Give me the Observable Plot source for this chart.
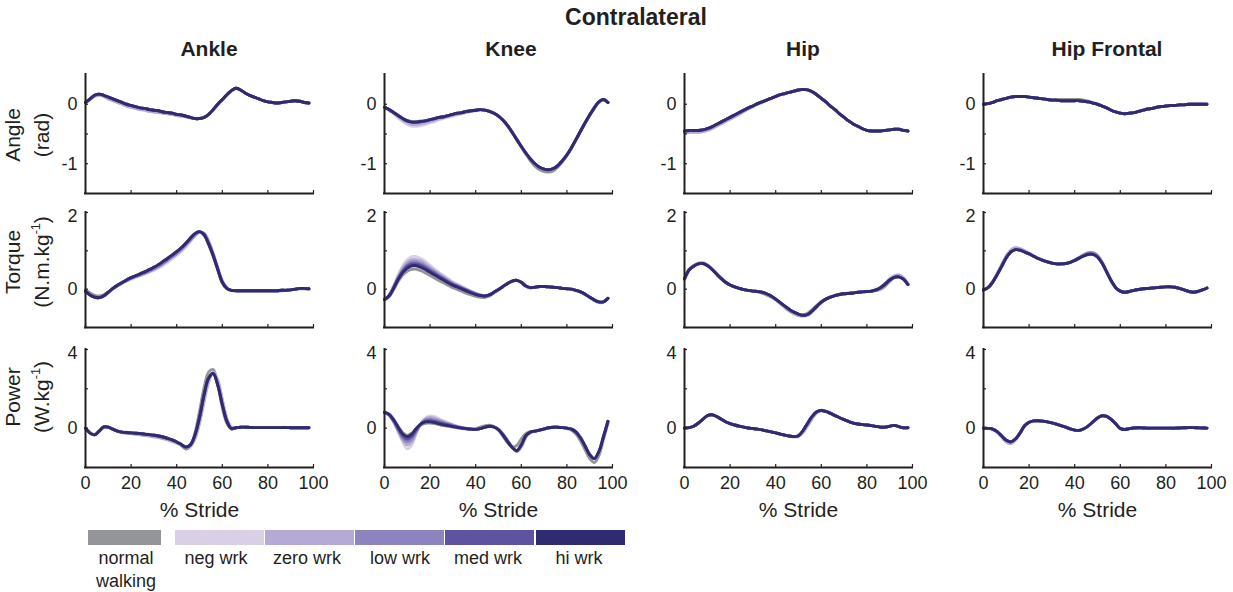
<!DOCTYPE html>
<html>
<head>
<meta charset="utf-8">
<script src="https://cdn.jsdelivr.net/npm/d3@7"></script>
<script src="https://cdn.jsdelivr.net/npm/@observablehq/plot@0.6"></script>
<style>
  body { margin: 0; background: #fff; }
  #fig { position: relative; width: 1233px; height: 592px; overflow: hidden;
         font-family: "Liberation Sans", Arial, Helvetica, sans-serif; color: #231f20; }
  .txt { position: absolute; white-space: nowrap; transform: translate(-50%, -50%); line-height: 1; }
  .ylab { position: absolute; white-space: nowrap; text-align: center; line-height: 29px; font-size: 21px;
          transform: translate(-50%, -50%) rotate(-90deg); }
  .ylab sup { font-size: 0.6em; vertical-align: 0.7em; line-height: 0; }
  .swatch { position: absolute; height: 15px; }
  .panel { position: absolute; }
</style>
</head>
<body>
<div id="fig"></div>
<script>
// ---- sample grid (% of stride) ----
const stride = [0,2,4,6,8,10,12,14,16,18,20,22,24,26,28,30,32,34,36,38,40,42,44,46,48,
  50,52,54,56,58,60,62,64,66,68,70,72,74,76,78,80,82,84,86,88,90,92,94,96,98];

// ---- conditions and their colours ----
const groups = ["normal walking", "neg wrk", "zero wrk", "low wrk", "med wrk", "hi wrk"];
const groupColors = ["#939598", "#d9d0e6", "#b4aad4", "#8c83bf", "#5d53a1", "#302a70"];
const legendLines = [["normal", "walking"], ["neg wrk"], ["zero wrk"], ["low wrk"], ["med wrk"], ["hi wrk"]];

// ---- panel labels ----
const figureTitle = "Contralateral";
const joints = ["Ankle", "Knee", "Hip", "Hip Frontal"];
const measures = ["Angle", "Torque", "Power"];
const measureUnits = ["(rad)", "(N.m.kg<sup>-1</sup>)", "(W.kg<sup>-1</sup>)"];
const strideLabel = "% Stride";

// ---- axes ----
const angleDomain = [-1.5, 0.5], angleTicks = [-1, -0.5, 0], angleTickLabels = [-1, 0];
const torqueDomain = [-1, 2], torqueTicks = [-1, 0, 1, 2], torqueTickLabels = [0, 2];
const powerDomain = [-2, 4], powerTicks = [-2, 0, 2, 4], powerTickLabels = [0, 4];
const strideTicks = [0, 20, 40, 60, 80, 100];

// ================= ANKLE =================
const ankleAngleDark = [
  0.03,0.09,0.15,0.17,0.15,0.12,0.09,0.06,0.03,0.00,
  -0.02,-0.04,-0.06,-0.07,-0.09,-0.10,-0.11,-0.13,-0.14,-0.15,
  -0.17,-0.18,-0.20,-0.22,-0.24,-0.24,-0.22,-0.17,-0.09,0.00,
  0.08,0.16,0.23,0.27,0.24,0.19,0.15,0.12,0.09,0.06,
  0.04,0.03,0.02,0.03,0.04,0.05,0.06,0.05,0.03,0.02];
const ankleAngleLight = [
  0.02,0.08,0.13,0.15,0.13,0.09,0.06,0.03,0.00,-0.03,
  -0.05,-0.07,-0.09,-0.10,-0.12,-0.13,-0.14,-0.15,-0.16,-0.17,
  -0.19,-0.20,-0.21,-0.23,-0.24,-0.24,-0.22,-0.17,-0.10,-0.01,
  0.07,0.15,0.22,0.27,0.24,0.19,0.15,0.12,0.09,0.06,
  0.04,0.03,0.02,0.03,0.04,0.05,0.06,0.05,0.03,0.02];

const ankleTorqueHi = [
  -0.05,-0.15,-0.21,-0.22,-0.17,-0.08,0.02,0.10,0.17,0.24,
  0.30,0.35,0.40,0.45,0.51,0.57,0.64,0.72,0.80,0.89,
  0.98,1.08,1.20,1.33,1.45,1.50,1.42,1.18,0.88,0.52,
  0.18,0.02,-0.03,-0.04,-0.04,-0.04,-0.04,-0.04,-0.04,-0.04,
  -0.04,-0.04,-0.04,-0.03,-0.03,-0.02,0.00,0.02,0.02,0.01];
const ankleTorqueZero = [
  -0.05,-0.15,-0.21,-0.22,-0.18,-0.09,0.01,0.09,0.16,0.22,
  0.28,0.33,0.37,0.42,0.47,0.53,0.59,0.67,0.75,0.84,
  0.93,1.03,1.15,1.28,1.41,1.49,1.45,1.23,0.91,0.54,
  0.20,0.03,-0.03,-0.04,-0.04,-0.04,-0.04,-0.04,-0.04,-0.04,
  -0.04,-0.04,-0.04,-0.03,-0.03,-0.02,0.00,0.02,0.02,0.01];
const ankleTorqueNeg = [
  -0.06,-0.16,-0.22,-0.23,-0.19,-0.10,0.00,0.08,0.15,0.21,
  0.26,0.31,0.35,0.39,0.44,0.49,0.55,0.62,0.70,0.79,
  0.88,0.98,1.10,1.24,1.38,1.48,1.47,1.28,0.96,0.58,
  0.23,0.05,-0.03,-0.04,-0.04,-0.04,-0.04,-0.04,-0.04,-0.04,
  -0.04,-0.04,-0.04,-0.03,-0.03,-0.02,0.00,0.02,0.02,0.01];
const ankleTorqueNormal = [
  -0.02,-0.10,-0.16,-0.18,-0.15,-0.07,0.02,0.10,0.17,0.24,
  0.30,0.35,0.40,0.45,0.51,0.57,0.64,0.72,0.80,0.89,
  0.98,1.08,1.20,1.33,1.45,1.50,1.42,1.16,0.85,0.50,
  0.16,0.01,-0.04,-0.05,-0.05,-0.05,-0.05,-0.05,-0.05,-0.05,
  -0.05,-0.05,-0.05,-0.04,-0.03,-0.02,0.00,0.01,0.01,0.00];

const anklePowerHi = [
  0.00,-0.25,-0.34,-0.15,0.06,0.05,-0.05,-0.15,-0.20,-0.22,
  -0.24,-0.26,-0.28,-0.30,-0.33,-0.36,-0.40,-0.45,-0.52,-0.60,
  -0.70,-0.83,-0.96,-0.85,-0.35,0.55,1.70,2.55,2.78,2.20,
  1.20,0.35,-0.02,0.02,0.05,0.05,0.04,0.03,0.03,0.03,
  0.03,0.03,0.03,0.03,0.03,0.02,0.02,0.02,0.02,0.02];
const anklePowerLight = [
  0.00,-0.25,-0.34,-0.16,0.05,0.04,-0.06,-0.17,-0.23,-0.26,
  -0.28,-0.31,-0.34,-0.37,-0.40,-0.44,-0.48,-0.53,-0.59,-0.67,
  -0.76,-0.86,-0.96,-0.92,-0.55,0.25,1.35,2.35,2.85,2.45,
  1.45,0.50,0.05,0.02,0.05,0.05,0.04,0.03,0.03,0.03,
  0.03,0.03,0.03,0.03,0.03,0.02,0.02,0.02,0.02,0.02];
const anklePowerNormal = [
  0.00,-0.22,-0.32,-0.14,0.06,0.05,-0.05,-0.14,-0.19,-0.21,
  -0.23,-0.25,-0.27,-0.29,-0.32,-0.35,-0.39,-0.44,-0.51,-0.60,
  -0.72,-0.88,-1.06,-0.92,-0.25,0.85,2.05,2.85,2.98,2.20,
  1.05,0.25,-0.03,0.02,0.05,0.05,0.04,0.03,0.03,0.03,
  0.03,0.03,0.03,0.03,0.03,0.02,0.02,0.02,0.02,0.02];

// ================= KNEE =================
const kneeAngleHi = [
  -0.05,-0.09,-0.14,-0.19,-0.24,-0.28,-0.30,-0.30,-0.29,-0.28,
  -0.26,-0.24,-0.22,-0.21,-0.19,-0.17,-0.15,-0.14,-0.12,-0.11,
  -0.10,-0.09,-0.10,-0.12,-0.15,-0.20,-0.27,-0.36,-0.47,-0.59,
  -0.71,-0.82,-0.92,-1.00,-1.06,-1.09,-1.10,-1.08,-1.03,-0.95,
  -0.85,-0.73,-0.59,-0.45,-0.31,-0.18,-0.06,0.04,0.08,0.03];
const kneeAngleZero = [
  -0.05,-0.10,-0.15,-0.21,-0.27,-0.31,-0.34,-0.34,-0.33,-0.31,
  -0.29,-0.27,-0.24,-0.22,-0.20,-0.18,-0.17,-0.15,-0.13,-0.12,
  -0.10,-0.09,-0.10,-0.12,-0.15,-0.20,-0.27,-0.36,-0.47,-0.59,
  -0.71,-0.82,-0.92,-1.00,-1.06,-1.09,-1.10,-1.08,-1.03,-0.95,
  -0.85,-0.73,-0.59,-0.45,-0.31,-0.18,-0.06,0.04,0.08,0.03];
const kneeAngleNeg = [
  -0.05,-0.10,-0.16,-0.23,-0.29,-0.34,-0.37,-0.37,-0.36,-0.34,
  -0.31,-0.29,-0.26,-0.24,-0.22,-0.20,-0.18,-0.16,-0.14,-0.12,
  -0.11,-0.10,-0.10,-0.12,-0.15,-0.20,-0.27,-0.36,-0.47,-0.59,
  -0.71,-0.82,-0.92,-1.00,-1.06,-1.09,-1.10,-1.08,-1.03,-0.95,
  -0.85,-0.73,-0.59,-0.45,-0.31,-0.18,-0.06,0.03,0.07,0.03];
const kneeAngleNormal = [
  -0.05,-0.09,-0.14,-0.19,-0.24,-0.27,-0.29,-0.29,-0.28,-0.27,
  -0.26,-0.24,-0.22,-0.21,-0.19,-0.17,-0.15,-0.14,-0.12,-0.11,
  -0.10,-0.09,-0.10,-0.12,-0.15,-0.20,-0.27,-0.37,-0.48,-0.60,
  -0.72,-0.84,-0.95,-1.04,-1.10,-1.13,-1.14,-1.12,-1.06,-0.97,
  -0.86,-0.74,-0.60,-0.46,-0.32,-0.19,-0.07,0.03,0.08,0.03];

const kneeTorqueHi = [
  -0.27,-0.18,0.02,0.25,0.43,0.55,0.61,0.61,0.57,0.51,
  0.44,0.37,0.30,0.23,0.16,0.10,0.05,0.00,-0.05,-0.10,
  -0.14,-0.17,-0.18,-0.15,-0.08,-0.01,0.07,0.15,0.21,0.23,
  0.18,0.08,0.04,0.05,0.07,0.07,0.06,0.05,0.04,0.02,
  0.01,0.00,-0.03,-0.07,-0.13,-0.21,-0.28,-0.33,-0.33,-0.24];
const kneeTorqueMed = [
  -0.27,-0.17,0.04,0.28,0.47,0.60,0.66,0.66,0.62,0.56,
  0.48,0.41,0.33,0.26,0.19,0.12,0.07,0.02,-0.03,-0.08,
  -0.13,-0.16,-0.18,-0.15,-0.08,-0.01,0.07,0.15,0.21,0.23,
  0.18,0.08,0.04,0.05,0.07,0.07,0.06,0.05,0.04,0.02,
  0.01,0.00,-0.03,-0.07,-0.13,-0.21,-0.28,-0.33,-0.33,-0.24];
const kneeTorqueLow = [
  -0.27,-0.17,0.05,0.30,0.50,0.64,0.71,0.71,0.67,0.60,
  0.52,0.44,0.36,0.29,0.21,0.14,0.09,0.03,-0.02,-0.07,
  -0.12,-0.16,-0.18,-0.15,-0.08,-0.01,0.07,0.15,0.21,0.23,
  0.18,0.08,0.04,0.05,0.07,0.07,0.06,0.05,0.04,0.02,
  0.01,0.00,-0.03,-0.07,-0.13,-0.21,-0.28,-0.33,-0.33,-0.24];
const kneeTorqueZero = [
  -0.27,-0.16,0.07,0.33,0.55,0.70,0.77,0.77,0.73,0.66,
  0.57,0.48,0.40,0.32,0.24,0.17,0.11,0.05,-0.01,-0.06,
  -0.11,-0.15,-0.17,-0.15,-0.08,-0.01,0.07,0.15,0.21,0.23,
  0.18,0.08,0.04,0.05,0.07,0.07,0.06,0.05,0.04,0.02,
  0.01,0.00,-0.03,-0.07,-0.13,-0.21,-0.28,-0.33,-0.33,-0.24];
const kneeTorqueNeg = [
  -0.27,-0.15,0.09,0.37,0.61,0.77,0.85,0.85,0.80,0.72,
  0.62,0.52,0.43,0.35,0.27,0.19,0.13,0.07,0.01,-0.05,
  -0.10,-0.14,-0.17,-0.15,-0.08,-0.01,0.07,0.15,0.21,0.23,
  0.18,0.08,0.04,0.05,0.07,0.07,0.06,0.05,0.04,0.02,
  0.01,0.00,-0.03,-0.07,-0.13,-0.21,-0.28,-0.33,-0.33,-0.24];
const kneeTorqueNormal = [
  -0.28,-0.20,-0.01,0.20,0.37,0.47,0.52,0.52,0.48,0.42,
  0.36,0.29,0.22,0.16,0.10,0.04,-0.01,-0.06,-0.11,-0.15,
  -0.19,-0.21,-0.22,-0.18,-0.10,-0.02,0.07,0.15,0.21,0.23,
  0.17,0.07,0.03,0.05,0.07,0.07,0.06,0.05,0.04,0.02,
  0.01,0.00,-0.03,-0.07,-0.14,-0.22,-0.30,-0.35,-0.34,-0.24];

const kneePowerHi = [
  0.80,0.70,0.42,0.05,-0.30,-0.44,-0.30,0.00,0.22,0.32,
  0.32,0.28,0.22,0.17,0.13,0.08,0.04,0.00,-0.03,-0.05,
  -0.06,-0.02,0.05,0.10,0.06,-0.08,-0.35,-0.68,-0.98,-1.15,
  -0.85,-0.38,-0.20,-0.15,-0.10,-0.04,0.02,0.05,0.05,0.03,
  0.00,-0.05,-0.20,-0.50,-0.92,-1.35,-1.55,-1.20,-0.45,0.35];
const kneePowerMed = [
  0.80,0.69,0.39,-0.02,-0.40,-0.56,-0.42,-0.07,0.22,0.36,
  0.38,0.34,0.28,0.22,0.16,0.10,0.05,0.01,-0.02,-0.05,
  -0.06,-0.02,0.05,0.10,0.06,-0.08,-0.35,-0.68,-0.98,-1.15,
  -0.85,-0.38,-0.20,-0.15,-0.10,-0.04,0.02,0.05,0.05,0.03,
  0.00,-0.05,-0.20,-0.50,-0.92,-1.35,-1.55,-1.20,-0.45,0.35];
const kneePowerLow = [
  0.80,0.68,0.36,-0.08,-0.50,-0.70,-0.55,-0.14,0.22,0.42,
  0.46,0.41,0.34,0.27,0.20,0.13,0.07,0.02,-0.02,-0.05,
  -0.06,-0.02,0.05,0.09,0.06,-0.07,-0.33,-0.66,-0.97,-1.16,
  -0.88,-0.41,-0.21,-0.15,-0.10,-0.04,0.02,0.05,0.05,0.03,
  0.00,-0.05,-0.20,-0.50,-0.92,-1.35,-1.55,-1.20,-0.45,0.35];
const kneePowerZero = [
  0.80,0.67,0.33,-0.14,-0.60,-0.86,-0.70,-0.20,0.23,0.47,
  0.54,0.50,0.41,0.32,0.24,0.16,0.09,0.03,-0.01,-0.04,
  -0.06,-0.02,0.04,0.09,0.06,-0.06,-0.31,-0.64,-0.96,-1.18,
  -0.92,-0.44,-0.22,-0.15,-0.10,-0.04,0.02,0.05,0.05,0.03,
  0.00,-0.05,-0.19,-0.48,-0.90,-1.33,-1.55,-1.22,-0.48,0.33];
const kneePowerNeg = [
  0.80,0.65,0.30,-0.20,-0.70,-1.05,-0.85,-0.25,0.25,0.52,
  0.62,0.58,0.48,0.37,0.27,0.18,0.10,0.04,-0.01,-0.04,
  -0.06,-0.02,0.04,0.08,0.06,-0.05,-0.28,-0.60,-0.95,-1.20,
  -1.00,-0.50,-0.24,-0.16,-0.10,-0.04,0.02,0.05,0.05,0.03,
  0.00,-0.05,-0.18,-0.46,-0.88,-1.32,-1.56,-1.25,-0.50,0.32];
const kneePowerNormal = [
  0.82,0.72,0.46,0.10,-0.22,-0.36,-0.25,-0.02,0.16,0.25,
  0.26,0.23,0.18,0.13,0.09,0.05,0.01,-0.02,-0.04,-0.04,
  -0.02,0.05,0.12,0.15,0.08,-0.10,-0.42,-0.75,-0.95,-0.88,
  -0.55,-0.28,-0.18,-0.14,-0.09,-0.04,0.02,0.05,0.05,0.03,
  -0.02,-0.10,-0.30,-0.65,-1.10,-1.55,-1.75,-1.40,-0.60,0.25];

// ================= HIP (sagittal) =================
const hipAngleDark = [
  -0.45,-0.44,-0.44,-0.44,-0.43,-0.41,-0.38,-0.34,-0.30,-0.26,
  -0.22,-0.18,-0.14,-0.10,-0.06,-0.03,0.01,0.04,0.07,0.10,
  0.13,0.16,0.18,0.20,0.22,0.24,0.25,0.24,0.21,0.16,
  0.10,0.04,-0.03,-0.09,-0.16,-0.22,-0.28,-0.33,-0.37,-0.41,
  -0.44,-0.45,-0.45,-0.45,-0.44,-0.43,-0.42,-0.42,-0.44,-0.45];
const hipAngleLight = [
  -0.47,-0.47,-0.47,-0.47,-0.46,-0.44,-0.41,-0.37,-0.33,-0.29,
  -0.25,-0.21,-0.17,-0.12,-0.08,-0.04,0.00,0.03,0.07,0.10,
  0.13,0.16,0.18,0.20,0.22,0.24,0.25,0.24,0.21,0.16,
  0.10,0.04,-0.03,-0.09,-0.16,-0.22,-0.28,-0.33,-0.37,-0.41,
  -0.44,-0.45,-0.45,-0.45,-0.44,-0.43,-0.42,-0.42,-0.44,-0.45];

const hipTorqueDark = [
  0.27,0.50,0.60,0.66,0.67,0.62,0.52,0.40,0.28,0.18,
  0.11,0.06,0.02,-0.01,-0.03,-0.05,-0.06,-0.08,-0.12,-0.18,
  -0.26,-0.35,-0.44,-0.53,-0.60,-0.65,-0.68,-0.66,-0.57,-0.45,
  -0.34,-0.26,-0.21,-0.17,-0.14,-0.12,-0.11,-0.10,-0.08,-0.07,
  -0.06,-0.05,-0.02,0.04,0.13,0.24,0.31,0.32,0.26,0.12];
const hipTorqueLight = [
  0.27,0.52,0.62,0.68,0.69,0.64,0.54,0.42,0.30,0.19,
  0.11,0.06,0.02,-0.01,-0.03,-0.05,-0.06,-0.08,-0.12,-0.18,
  -0.27,-0.36,-0.46,-0.55,-0.63,-0.68,-0.70,-0.68,-0.59,-0.47,
  -0.35,-0.26,-0.21,-0.17,-0.14,-0.12,-0.11,-0.10,-0.08,-0.07,
  -0.06,-0.05,-0.02,0.05,0.15,0.27,0.35,0.37,0.30,0.14];
const hipTorqueNormal = [
  0.27,0.50,0.60,0.66,0.67,0.62,0.52,0.40,0.28,0.18,
  0.11,0.06,0.02,-0.01,-0.03,-0.05,-0.07,-0.10,-0.15,-0.21,
  -0.28,-0.38,-0.48,-0.57,-0.64,-0.69,-0.68,-0.63,-0.53,-0.42,
  -0.32,-0.25,-0.20,-0.16,-0.13,-0.11,-0.10,-0.09,-0.08,-0.07,
  -0.06,-0.05,-0.04,0.00,0.08,0.20,0.30,0.33,0.27,0.13];

const hipPowerDark = [
  0.00,0.03,0.10,0.25,0.45,0.63,0.68,0.60,0.46,0.33,
  0.23,0.16,0.10,0.05,0.01,-0.02,-0.05,-0.09,-0.14,-0.19,
  -0.24,-0.30,-0.35,-0.40,-0.43,-0.38,-0.12,0.25,0.60,0.83,
  0.90,0.85,0.75,0.64,0.53,0.43,0.34,0.26,0.21,0.18,
  0.16,0.13,0.09,0.05,0.05,0.10,0.14,0.08,0.02,0.02];
const hipPowerLight = [
  0.00,0.03,0.10,0.25,0.45,0.63,0.68,0.60,0.46,0.33,
  0.23,0.16,0.10,0.05,0.01,-0.02,-0.05,-0.09,-0.14,-0.19,
  -0.24,-0.30,-0.35,-0.40,-0.44,-0.42,-0.22,0.12,0.48,0.78,
  0.91,0.87,0.77,0.65,0.54,0.44,0.35,0.27,0.21,0.18,
  0.16,0.13,0.09,0.05,0.05,0.10,0.14,0.08,0.02,0.02];

// ================= HIP (frontal) =================
const frontalAngleDark = [
  0.00,0.01,0.03,0.06,0.08,0.10,0.12,0.13,0.13,0.13,
  0.12,0.11,0.10,0.09,0.08,0.07,0.07,0.06,0.06,0.06,
  0.06,0.06,0.05,0.04,0.02,0.00,-0.03,-0.06,-0.10,-0.13,
  -0.15,-0.16,-0.15,-0.14,-0.12,-0.10,-0.08,-0.07,-0.05,-0.04,
  -0.03,-0.02,-0.02,-0.01,-0.01,0.00,0.00,0.00,0.00,0.00];
const frontalAngleNormal = [
  0.00,0.01,0.03,0.06,0.08,0.10,0.12,0.13,0.13,0.13,
  0.12,0.11,0.10,0.09,0.08,0.08,0.08,0.08,0.08,0.08,
  0.08,0.08,0.07,0.05,0.03,0.00,-0.03,-0.06,-0.10,-0.13,
  -0.15,-0.16,-0.15,-0.14,-0.12,-0.10,-0.08,-0.07,-0.05,-0.04,
  -0.03,-0.02,-0.02,-0.01,-0.01,0.00,0.00,0.00,0.00,0.00];

const frontalTorqueDark = [
  -0.02,0.04,0.18,0.38,0.60,0.82,0.97,1.03,1.02,0.97,
  0.92,0.86,0.80,0.75,0.71,0.68,0.66,0.66,0.67,0.70,
  0.75,0.81,0.87,0.91,0.91,0.84,0.68,0.45,0.22,0.04,
  -0.05,-0.08,-0.06,-0.03,-0.01,0.01,0.02,0.03,0.04,0.05,
  0.06,0.06,0.05,0.02,-0.02,-0.06,-0.08,-0.06,-0.02,0.03];
const frontalTorqueLight = [
  -0.02,0.05,0.20,0.41,0.64,0.87,1.02,1.08,1.06,1.00,
  0.94,0.87,0.81,0.76,0.71,0.68,0.66,0.66,0.67,0.70,
  0.75,0.81,0.87,0.91,0.91,0.84,0.68,0.45,0.22,0.04,
  -0.05,-0.08,-0.06,-0.03,-0.01,0.01,0.02,0.03,0.04,0.05,
  0.06,0.06,0.05,0.02,-0.02,-0.06,-0.08,-0.06,-0.02,0.03];
const frontalTorqueNormal = [
  -0.02,0.04,0.18,0.38,0.60,0.82,0.97,1.03,1.02,0.97,
  0.92,0.86,0.80,0.75,0.71,0.68,0.66,0.66,0.67,0.70,
  0.76,0.83,0.90,0.95,0.95,0.88,0.71,0.47,0.23,0.04,
  -0.05,-0.08,-0.06,-0.03,-0.01,0.01,0.02,0.03,0.04,0.05,
  0.06,0.06,0.05,0.02,-0.02,-0.06,-0.08,-0.06,-0.02,0.03];

const frontalPowerDark = [
  0.00,-0.01,-0.05,-0.18,-0.40,-0.62,-0.70,-0.55,-0.25,0.12,
  0.30,0.37,0.38,0.36,0.32,0.27,0.21,0.13,0.05,-0.04,
  -0.10,-0.11,-0.03,0.12,0.32,0.52,0.63,0.60,0.45,0.22,
  -0.02,-0.07,-0.02,0.01,0.02,0.01,0.00,0.00,0.00,0.00,
  0.00,0.00,0.00,0.01,0.02,0.03,0.03,0.02,0.01,0.00];
const frontalPowerLight = [
  0.00,-0.01,-0.06,-0.21,-0.46,-0.70,-0.78,-0.60,-0.27,0.10,
  0.30,0.37,0.38,0.36,0.32,0.27,0.21,0.13,0.05,-0.04,
  -0.10,-0.11,-0.03,0.12,0.32,0.52,0.64,0.61,0.46,0.22,
  -0.02,-0.07,-0.02,0.01,0.02,0.01,0.00,0.00,0.00,0.00,
  0.00,0.00,0.00,0.01,0.02,0.03,0.03,0.02,0.01,0.00];

// series per panel, in the order of `groups` (normal, neg, zero, low, med, hi)
const ankleAngle   = [ankleAngleDark, ankleAngleLight, ankleAngleLight, ankleAngleDark, ankleAngleDark, ankleAngleDark];
const ankleTorque  = [ankleTorqueNormal, ankleTorqueNeg, ankleTorqueZero, ankleTorqueZero, ankleTorqueHi, ankleTorqueHi];
const anklePower   = [anklePowerNormal, anklePowerLight, anklePowerLight, anklePowerHi, anklePowerHi, anklePowerHi];
const kneeAngle    = [kneeAngleNormal, kneeAngleNeg, kneeAngleZero, kneeAngleHi, kneeAngleHi, kneeAngleHi];
const kneeTorque   = [kneeTorqueNormal, kneeTorqueNeg, kneeTorqueZero, kneeTorqueLow, kneeTorqueMed, kneeTorqueHi];
const kneePower    = [kneePowerNormal, kneePowerNeg, kneePowerZero, kneePowerLow, kneePowerMed, kneePowerHi];
const hipAngle     = [hipAngleDark, hipAngleLight, hipAngleLight, hipAngleDark, hipAngleDark, hipAngleDark];
const hipTorque    = [hipTorqueNormal, hipTorqueLight, hipTorqueLight, hipTorqueDark, hipTorqueDark, hipTorqueDark];
const hipPower     = [hipPowerDark, hipPowerLight, hipPowerLight, hipPowerDark, hipPowerDark, hipPowerDark];
const frontalAngle = [frontalAngleNormal, frontalAngleDark, frontalAngleDark, frontalAngleDark, frontalAngleDark, frontalAngleDark];
const frontalTorque= [frontalTorqueNormal, frontalTorqueLight, frontalTorqueLight, frontalTorqueDark, frontalTorqueDark, frontalTorqueDark];
const frontalPower = [frontalPowerDark, frontalPowerLight, frontalPowerLight, frontalPowerDark, frontalPowerDark, frontalPowerDark];

const grid = [
  [ankleAngle, kneeAngle, hipAngle, frontalAngle],
  [ankleTorque, kneeTorque, hipTorque, frontalTorque],
  [anklePower, kneePower, hipPower, frontalPower]
];
const rowAxes = [
  {domain: angleDomain, ticks: angleTicks, labels: angleTickLabels},
  {domain: torqueDomain, ticks: torqueTicks, labels: torqueTickLabels},
  {domain: powerDomain, ticks: powerTicks, labels: powerTickLabels}
];

// ---- layout ----
const ink = "#231f20";
const font = '"Liberation Sans", Arial, Helvetica, sans-serif';
const fig = document.getElementById("fig");
const colLeft = [85, 384, 684, 983];
const plotW = 228;
const rowTop = [74, 212, 349];
const rowH = [119, 115, 118];
const ML = 45, MR = 10, MT = 6;

function records(list) {
  return list.flatMap((vals, gi) => vals.map((v, i) => ({x: stride[i], y: v, group: groups[gi]})));
}

function addText(html, x, y, style = {}) {
  const d = document.createElement("div");
  d.className = "txt";
  d.innerHTML = html;
  d.style.left = x + "px";
  d.style.top = y + "px";
  Object.assign(d.style, style);
  fig.appendChild(d);
  return d;
}

grid.forEach((row, r) => {
  const ax = rowAxes[r];
  const yd = ax.domain;
  const bottomRow = r === grid.length - 1;
  const MB = bottomRow ? 60 : 6;
  const pxPerUnit = rowH[r] / (yd[1] - yd[0]);
  const tickLen = 3 / pxPerUnit;
  // labels that sit at the very top of an axis are nudged down a little
  const innerLabels = ax.labels.filter(v => v < yd[1]);
  const topLabels = ax.labels.filter(v => v >= yd[1]);
  row.forEach((series, c) => {
    const marks = [
      Plot.line(records(series), {
        x: "x", y: "y", z: "group", stroke: "group",
        strokeWidth: 2.9, curve: "catmull-rom", strokeLinejoin: "round", strokeLinecap: "round"
      }),
      Plot.ruleY(ax.ticks, {x1: 0, x2: 3 / (plotW / 100), stroke: ink, strokeWidth: 1.2}),
      Plot.ruleX(strideTicks, {y1: yd[0], y2: yd[0] + tickLen, stroke: ink, strokeWidth: 1.2}),
      Plot.ruleX([0], {y1: yd[0], y2: yd[1], stroke: ink, strokeWidth: 2, strokeLinecap: "square"}),
      Plot.ruleY([yd[0]], {x1: 0, x2: 100, stroke: ink, strokeWidth: 2, strokeLinecap: "square"}),
      Plot.axisY({ticks: innerLabels, tickSize: 0, tickPadding: 8, tickFormat: d => String(d), fontSize: 18, label: null})
    ];
    if (topLabels.length) {
      marks.push(Plot.axisY({ticks: topLabels, tickSize: 0, tickPadding: 8, tickFormat: d => String(d), fontSize: 18, label: null, dy: 4}));
    }
    if (bottomRow) {
      marks.push(
        Plot.axisX({ticks: strideTicks, tickSize: 0, tickPadding: 9, tickFormat: d => String(d), fontSize: 18, label: null}),
        Plot.text([strideLabel], {x: 50, y: yd[0], dy: 43, fontSize: 21, fill: ink})
      );
    }
    const svg = Plot.plot({
      width: ML + plotW + MR,
      height: MT + rowH[r] + MB,
      marginLeft: ML, marginRight: MR, marginTop: MT, marginBottom: MB,
      x: bottomRow ? {domain: [0, 100]} : {domain: [0, 100], axis: null},
      y: {domain: yd},
      color: {type: "ordinal", domain: groups, range: groupColors},
      style: {fontFamily: font, fontSize: "18px", color: ink, background: "transparent", overflow: "visible"},
      marks
    });
    const holder = document.createElement("div");
    holder.className = "panel";
    holder.style.left = (colLeft[c] - ML) + "px";
    holder.style.top = (rowTop[r] - MT) + "px";
    holder.appendChild(svg);
    fig.appendChild(holder);
  });
});

// ---- titles ----
addText(figureTitle, 636, 17, {fontWeight: "bold", fontSize: "23px"});
const titleX = [209, 511, 803, 1107];
joints.forEach((j, c) => addText(j, titleX[c], 48, {fontWeight: "bold", fontSize: "21px"}));

// ---- row labels (rotated, two lines) ----
const ylabY = [135, 262, 397];
measures.forEach((m, r) => {
  const d = document.createElement("div");
  d.className = "ylab";
  d.innerHTML = m + "<br>" + measureUnits[r];
  d.style.left = "27px";
  d.style.top = ylabY[r] + "px";
  fig.appendChild(d);
});

// ---- legend ----
const swatchX = [[88, 161], [175, 264], [265, 354], [355, 444], [445, 534], [536, 625]];
const legendTextX = [126, 216, 307, 400, 488, 579];
groups.forEach((g, i) => {
  const s = document.createElement("div");
  s.className = "swatch";
  s.style.left = swatchX[i][0] + "px";
  s.style.width = (swatchX[i][1] - swatchX[i][0]) + "px";
  s.style.top = "530px";
  s.style.background = groupColors[i];
  fig.appendChild(s);
  legendLines[i].forEach((line, k) => {
    addText(line, legendTextX[i], 558 + k * 23, {fontSize: "18px"});
  });
});
</script>
</body>
</html>
